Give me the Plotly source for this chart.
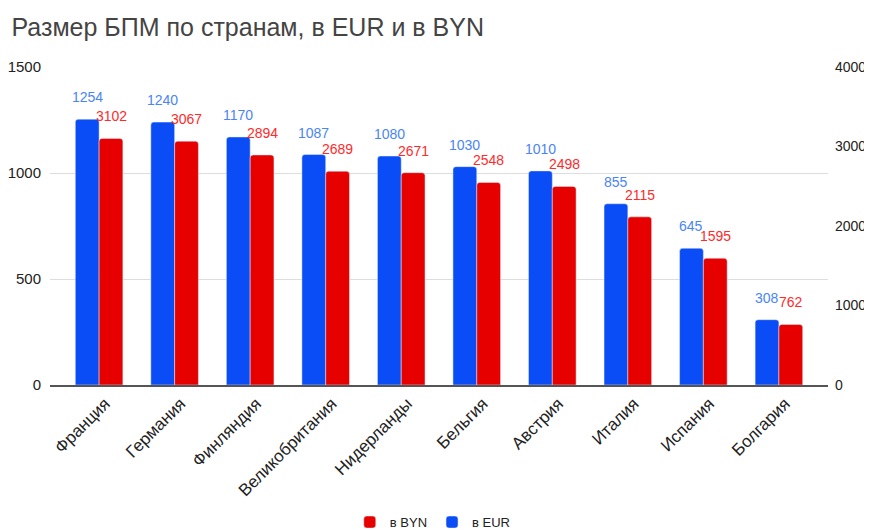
import plotly.graph_objects as go

countries = ["Франция", "Германия", "Финляндия", "Великобритания", "Нидерланды",
             "Бельгия", "Австрия", "Италия", "Испания", "Болгария"]
eur_values = [1254, 1240, 1170, 1087, 1080, 1030, 1010, 855, 645, 308]
byn_values = [3102, 3067, 2894, 2689, 2671, 2548, 2498, 2115, 1595, 762]
left_ticks = [0, 500, 1000, 1500]
right_ticks = [0, 1000, 2000, 3000, 4000]

BLUE = "#0a4cf5"
RED = "#e60000"
BLUE_TXT = "#4a85f5"
RED_TXT = "#ff2a2a"
FONT = "Liberation Sans, Arial"

fig = go.Figure()
fig.add_trace(go.Bar(x=countries, y=eur_values, name="в EUR", marker_color=BLUE,
                     offsetgroup="eur", yaxis="y"))
fig.add_trace(go.Bar(x=countries, y=byn_values, name="в BYN", marker_color=RED,
                     offsetgroup="byn", yaxis="y2"))

annotations = []
for c, v in zip(countries, eur_values):
    annotations.append(dict(x=c, y=v, xref="x", yref="y", text=str(v), showarrow=False,
                            xshift=-12, yshift=22, yanchor="middle",
                            font=dict(family=FONT, size=14, color=BLUE_TXT)))
for c, v in zip(countries, byn_values):
    annotations.append(dict(x=c, y=v, xref="x", yref="y2", text=str(v), showarrow=False,
                            xshift=12, yshift=22, yanchor="middle",
                            font=dict(family=FONT, size=14, color=RED_TXT)))

fig.update_layout(
    width=872, height=530,
    margin=dict(l=42, r=52, t=59, b=153),
    paper_bgcolor="white", plot_bgcolor="white",
    font=dict(family=FONT, size=14, color="#222222"),
    title=dict(text="Размер БПМ по странам, в EUR и в BYN", x=0.004, xanchor="left",
               y=0.964, yanchor="middle", automargin=False,
               font=dict(family=FONT, size=25, color="#444444")),
    barmode="group", bargap=0.37, bargroupgap=0.0, barcornerradius=3,
    xaxis=dict(range=[-0.65, 9.65], tickangle=-45, showline=True, linecolor="#555555",
               linewidth=2, ticks="", showgrid=False, automargin=False,
               ticklabelshift=6,
               tickfont=dict(family=FONT, size=17, color="#222222")),
    yaxis=dict(range=[0, 1500], tickvals=left_ticks, showgrid=True, gridcolor="#dddddd",
               zeroline=False, ticks="", automargin=False, ticklabelstandoff=8,
               tickfont=dict(size=15, color="#222222")),
    yaxis2=dict(range=[0, 4000], tickvals=right_ticks, overlaying="y", side="right",
                showgrid=False, zeroline=False, ticks="", automargin=False,
                ticklabelstandoff=6,
                tickfont=dict(size=14, color="#222222")),
    legend=dict(orientation="h", x=0.492, xanchor="center", xref="paper",
                y=0.03, yanchor="middle", yref="container",
                traceorder="reversed", itemwidth=30,
                font=dict(size=13, color="#222222")),
    annotations=annotations,
)

fig.write_html("out.html")
